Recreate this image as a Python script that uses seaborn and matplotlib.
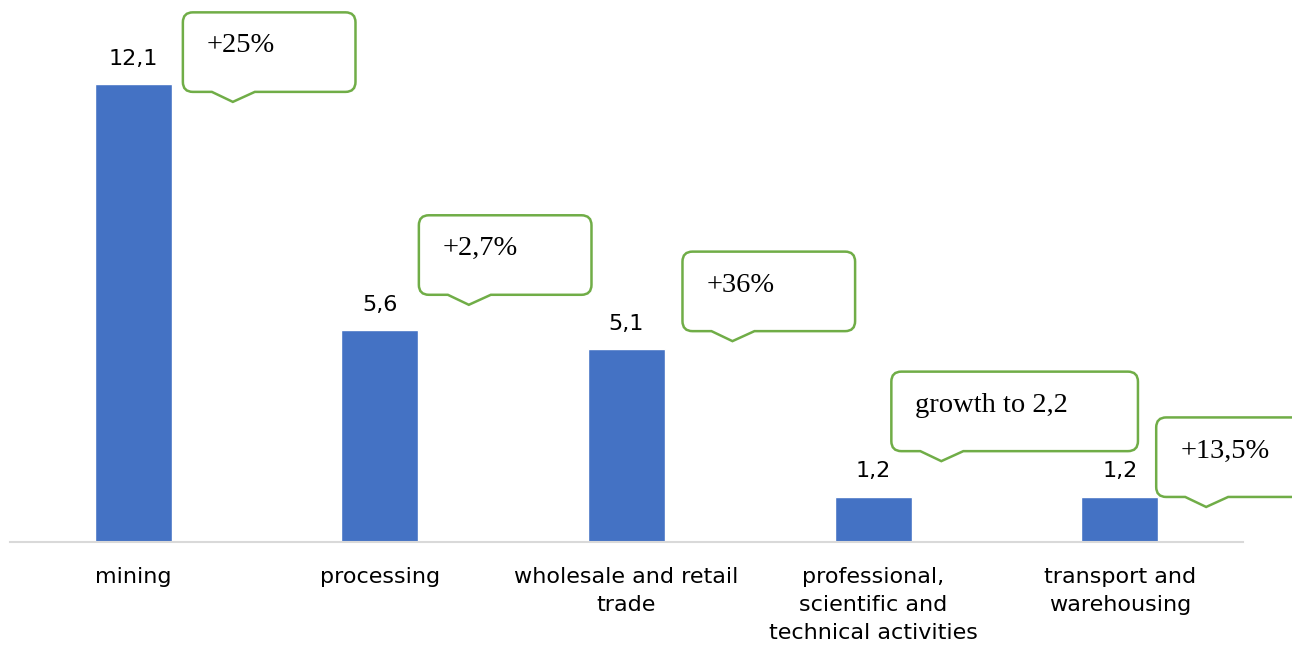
import matplotlib
matplotlib.use("Agg")
import matplotlib.pyplot as plt
from matplotlib.path import Path
from matplotlib.patches import PathPatch
import seaborn as sns
import pandas as pd

categories = ["mining", "processing", "wholesale and retail\ntrade",
              "professional,\nscientific and\ntechnical activities",
              "transport and\nwarehousing"]
values = [12.1, 5.6, 5.1, 1.2, 1.2]
callout_texts = ["+25%", "+2,7%", "+36%", "growth to 2,2", "+13,5%"]

# callout boxes: left (category units), bottom (value units), width
box_left = [0.201, 1.158, 2.227, 3.074, 4.148]
box_bottom = [11.89, 6.53, 5.57, 2.40, 1.19]
box_width = [0.70, 0.70, 0.70, 1.00, 0.70]

# pixel -> data scale (fixed figure size)
PX_X = 1 / 246.75
PX_Y = 1 / 37.85

sns.set_style("white")
plt.rcParams["font.family"] = ["DejaVu Sans"]

df = pd.DataFrame({"cat": categories, "val": values})

fig = plt.figure(figsize=(12.92, 6.45), dpi=100)
ax = fig.add_axes([10 / 1292, 103 / 645, 1233 / 1292, 530 / 645])
sns.barplot(data=df, x="cat", y="val", color="#4472C4", saturation=1,
            width=0.312, ax=ax)
ax.set_xlim(-0.5, 4.5)
ax.set_ylim(0, 14)

labels = [f"{v:.1f}".replace(".", ",") for v in values]
ax.bar_label(ax.containers[0], labels=labels, padding=11, fontsize=16,
             color="#000000")

sns.despine(ax=ax, left=True)
ax.spines["bottom"].set_color("#D9D9D9")
ax.spines["bottom"].set_linewidth(1.5)
ax.set_yticks([])
ax.set_xlabel("")
ax.set_ylabel("")
ax.tick_params(axis="x", length=0, pad=18, labelsize=16, colors="#000000")
for t in ax.get_xticklabels():
    t.set_linespacing(1.5)


def callout(x0, y0, w, txt):
    h = 79.5 * PX_Y
    rx, ry = 10 * PX_X, 10 * PX_Y
    x1, y1 = x0 + w, y0 + h
    t0, ta, t1 = x0 + 29 * PX_X, x0 + 50 * PX_X, x0 + 72 * PX_X
    depth = 10 * PX_Y
    verts = [
        (x0 + rx, y0),
        (t0, y0), (ta, y0 - depth), (t1, y0),
        (x1 - rx, y0),
        (x1, y0), (x1, y0 + ry),
        (x1, y1 - ry),
        (x1, y1), (x1 - rx, y1),
        (x0 + rx, y1),
        (x0, y1), (x0, y1 - ry),
        (x0, y0 + ry),
        (x0, y0), (x0 + rx, y0),
        (x0 + rx, y0),
    ]
    codes = [Path.MOVETO,
             Path.LINETO, Path.LINETO, Path.LINETO,
             Path.LINETO,
             Path.CURVE3, Path.CURVE3,
             Path.LINETO,
             Path.CURVE3, Path.CURVE3,
             Path.LINETO,
             Path.CURVE3, Path.CURVE3,
             Path.LINETO,
             Path.CURVE3, Path.CURVE3,
             Path.CLOSEPOLY]
    patch = PathPatch(Path(verts, codes), facecolor="white",
                      edgecolor="#70AD47", lw=1.8, clip_on=False, zorder=3)
    ax.add_patch(patch)
    ax.text(x0 + 24 * PX_X, y1 - 40 * PX_Y, txt, fontsize=20.5,
            family=["Liberation Serif", "DejaVu Serif"], va="baseline",
            ha="left", color="#000000", zorder=4, clip_on=False)


for x0, y0, w, txt in zip(box_left, box_bottom, box_width, callout_texts):
    callout(x0, y0, w, txt)

fig.savefig("out.png", dpi=100)
